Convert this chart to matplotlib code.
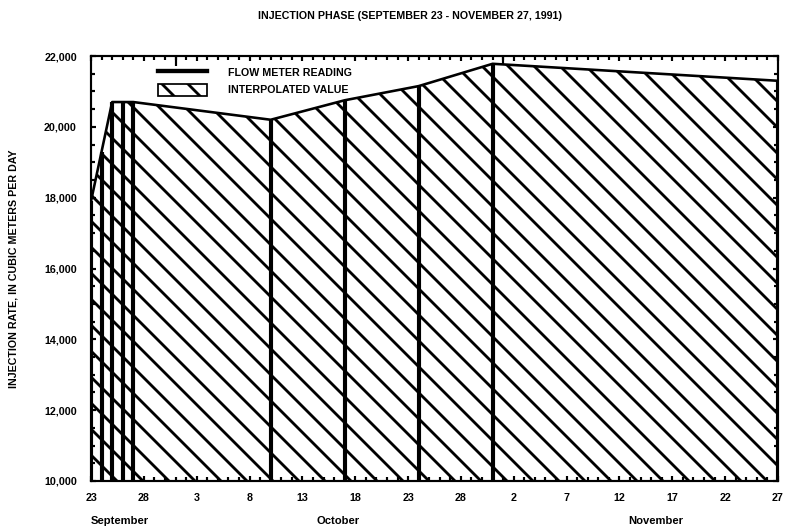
import numpy as np
import matplotlib
matplotlib.use('Agg')
import matplotlib.pyplot as plt
from matplotlib.lines import Line2D
from matplotlib.patches import Patch

# days counted from September 23, 1991
reading_days = [0, 1, 2, 3, 4, 17, 24, 31, 38, 65]
reading_rate = [17900, 19300, 20700, 20700, 20700, 20200, 20750, 21150, 21780, 21300]

tick_days = [0, 5, 10, 15, 20, 25, 30, 35, 40, 45, 50, 55, 60, 65]
tick_labels = ['23', '28', '3', '8', '13', '18', '23', '28', '2', '7', '12', '17', '22', '27']
month_days = [8, 39]   # Oct 1, Nov 1
month_names = ['September', 'October', 'November']
month_label_pos = [2.7, 23.4, 53.4]

y_ticks = [10000, 12000, 14000, 16000, 18000, 20000, 22000]

DPI = 156
FS = 4.9
plt.rcParams['font.family'] = ['Liberation Sans', 'DejaVu Sans']
plt.rcParams['font.weight'] = 'bold'
plt.rcParams['axes.labelweight'] = 'bold'
plt.rcParams['hatch.linewidth'] = 1.3
plt.rcParams['hatch.color'] = 'black'

fig = plt.figure(figsize=(785 / DPI, 531 / DPI), dpi=DPI)
ax = fig.add_axes([91 / 785, 1 - 481 / 531, 687 / 785, 425 / 531])

# hatched area = interpolated values
ax.fill_between(reading_days, reading_rate, 10000, facecolor='white',
                edgecolor='black', hatch='\\\\', linewidth=0)
ax.plot(reading_days, reading_rate, color='black', lw=1.2)
# flow meter readings
ax.vlines(reading_days, 10000, reading_rate, colors='black', lw=1.9)

ax.set_xlim(0, 65)
ax.set_ylim(10000, 22000)

ax.set_xticks(tick_days)
ax.set_xticklabels(tick_labels)
ax.set_xticks(np.arange(0, 66, 1), minor=True)
ax.set_yticks(y_ticks)
ax.set_yticklabels(['{:,}'.format(v) for v in y_ticks])
ax.set_yticks(np.arange(10000, 22001, 500), minor=True)

ax.tick_params(which='both', direction='in', top=True, right=True, width=1.0,
               labelsize=FS, colors='black')
ax.tick_params(which='major', length=2.2)
ax.tick_params(which='minor', length=1.8)
ax.tick_params(axis='x', which='major', pad=5.5)
ax.tick_params(axis='y', which='major', pad=6.5)

for s in ax.spines.values():
    s.set_linewidth(1.0)

# longer ticks at month boundaries on the top edge
sec = ax.secondary_xaxis('top')
sec.set_xticks(month_days)
sec.tick_params(direction='in', length=4.5, width=1.0, labeltop=False)
sec.spines['top'].set_visible(False)

for pos, name in zip(month_label_pos, month_names):
    ax.text(pos, -0.094, name, transform=ax.get_xaxis_transform(),
            ha='center', va='center', fontsize=FS + 0.3)

ax.set_ylabel('INJECTION RATE, IN CUBIC METERS PER DAY', fontsize=FS)
ax.yaxis.set_label_coords(-0.106, 0.5)

fig.text(410 / 785, 1 - 16 / 531, 'INJECTION PHASE (SEPTEMBER 23 - NOVEMBER 27, 1991)',
         ha='center', va='center', fontsize=FS)

handles = [Line2D([0], [0], color='black', lw=2.0),
           Patch(facecolor='white', edgecolor='black', hatch='\\\\', lw=0.8)]
ax.legend(handles, ['FLOW METER READING', 'INTERPOLATED VALUE'],
          loc='upper left', bbox_to_anchor=(0.098, 0.975), frameon=False,
          fontsize=FS, handlelength=4.6, handleheight=1.4, handletextpad=2.0,
          labelspacing=0.45, borderpad=0, borderaxespad=0)

fig.savefig('out.png', dpi=DPI)
